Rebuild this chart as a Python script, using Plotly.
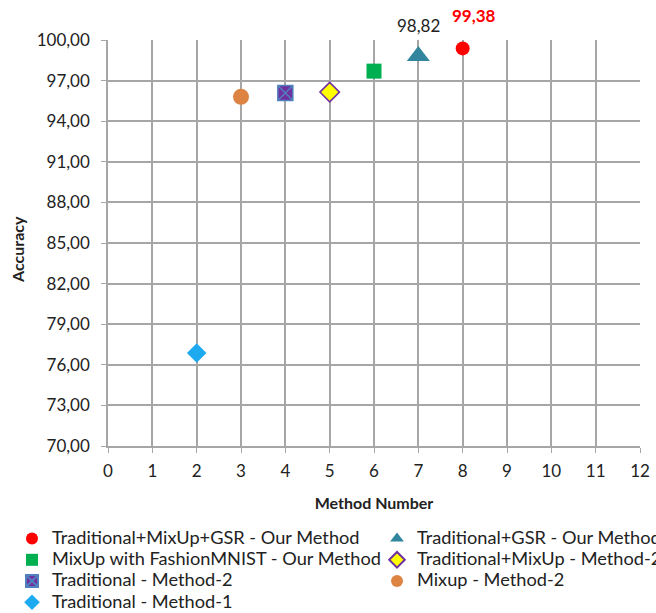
import plotly.graph_objects as go

# Accuracy per method, one trace per method
names = [
    "Traditional+MixUp+GSR - Our Method",
    "Traditional+GSR - Our Method",
    "MixUp with FashionMNIST - Our Method",
    "Traditional+MixUp - Method-2",
    "Traditional - Method-2",
    "Mixup - Method-2",
    "Traditional - Method-1",
]
method_number = [8, 7, 6, 5, 4, 3, 2]
accuracy = [99.38, 98.82, 97.70, 96.15, 96.08, 95.80, 76.88]

symbols = ["circle", "triangle-up", "square", "diamond", "square-x", "circle", "diamond"]
fills = ["#FF0000", "#31859C", "#00B050", "#FFFF00", "#7030A0", "#DD8443", "#1EAAF0"]
edges = ["#FF0000", "#31859C", "#00B050", "#7030A0", "#4F81BD", "#DD8443", "#1EAAF0"]
edge_w = [0, 0, 0, 1.5, 1.5, 0, 0]
sizes = [14, 20, 15, 15, 15, 16, 15]
# legend column for each entry (entries fill left column, then right)
legend_col = ["legend", "legend2", "legend", "legend2", "legend", "legend2", "legend"]

# value labels shown for the two top methods
label_text = {0: "<b>99,38</b>", 1: "98,82"}
label_color = {0: "#FF0000", 1: "#222222"}
label_shift = {0: (11, 33), 1: (0, 30)}

FONT = "Lato, 'Open Sans', sans-serif"

fig = go.Figure()
for i, n in enumerate(names):
    fig.add_trace(go.Scatter(
        x=[method_number[i]], y=[accuracy[i]],
        name='<span style="font-size:18.2px">%s</span>' % n,
        legend=legend_col[i],
        mode="markers",
        marker=dict(symbol=symbols[i], size=sizes[i], color=fills[i],
                    line=dict(color=edges[i], width=edge_w[i])),
        cliponaxis=False,
    ))

for i, t in label_text.items():
    fig.add_annotation(x=method_number[i], y=accuracy[i], text=t, showarrow=False,
                       xshift=label_shift[i][0], yshift=label_shift[i][1],
                       font=dict(size=17, color=label_color[i], family=FONT))

# y-axis title, placed to the left of the tick labels
fig.add_annotation(xref="paper", yref="paper", x=(18 - 108) / 532, y=0.483,
                   xanchor="center", yanchor="middle",
                   text="<b>Accuracy</b>", textangle=-90, showarrow=False,
                   font=dict(size=16, family=FONT, color="#222222"))

legend_common = dict(orientation="v", xref="container", yref="container",
                     xanchor="left", y=0.1468, yanchor="top", tracegroupgap=0,
                     itemsizing="constant", bgcolor="rgba(0,0,0,0)",
                     font=dict(size=14, family=FONT, color="#222222"))

grid = "#A6A6A6"
fig.update_layout(
    width=656, height=613,
    margin=dict(l=108, r=16, t=40, b=167, autoexpand=False),
    paper_bgcolor="white", plot_bgcolor="white",
    font=dict(family=FONT, size=17, color="#222222"),
    showlegend=True,
    legend=dict(x=12 / 656, **legend_common),
    legend2=dict(x=377 / 656, **legend_common),
    xaxis=dict(range=[0, 12], dtick=1, tick0=0, showgrid=True, gridcolor=grid, gridwidth=1.5,
               showline=True, linecolor=grid, linewidth=1.5, ticks="outside", ticklen=5,
               tickcolor=grid, zeroline=False, ticklabelstandoff=4,
               title=dict(text="<b>Method Number</b>", font=dict(size=16), standoff=18)),
    yaxis=dict(range=[70, 100], dtick=3, tick0=70, showgrid=True, gridcolor=grid, gridwidth=1.5,
               showline=True, linecolor=grid, linewidth=1.5, ticks="outside", ticklen=5,
               tickcolor=grid, zeroline=False, tickformat=".2f", ticklabelstandoff=8),
    separators=", ",
)

fig.write_html("out.html")
